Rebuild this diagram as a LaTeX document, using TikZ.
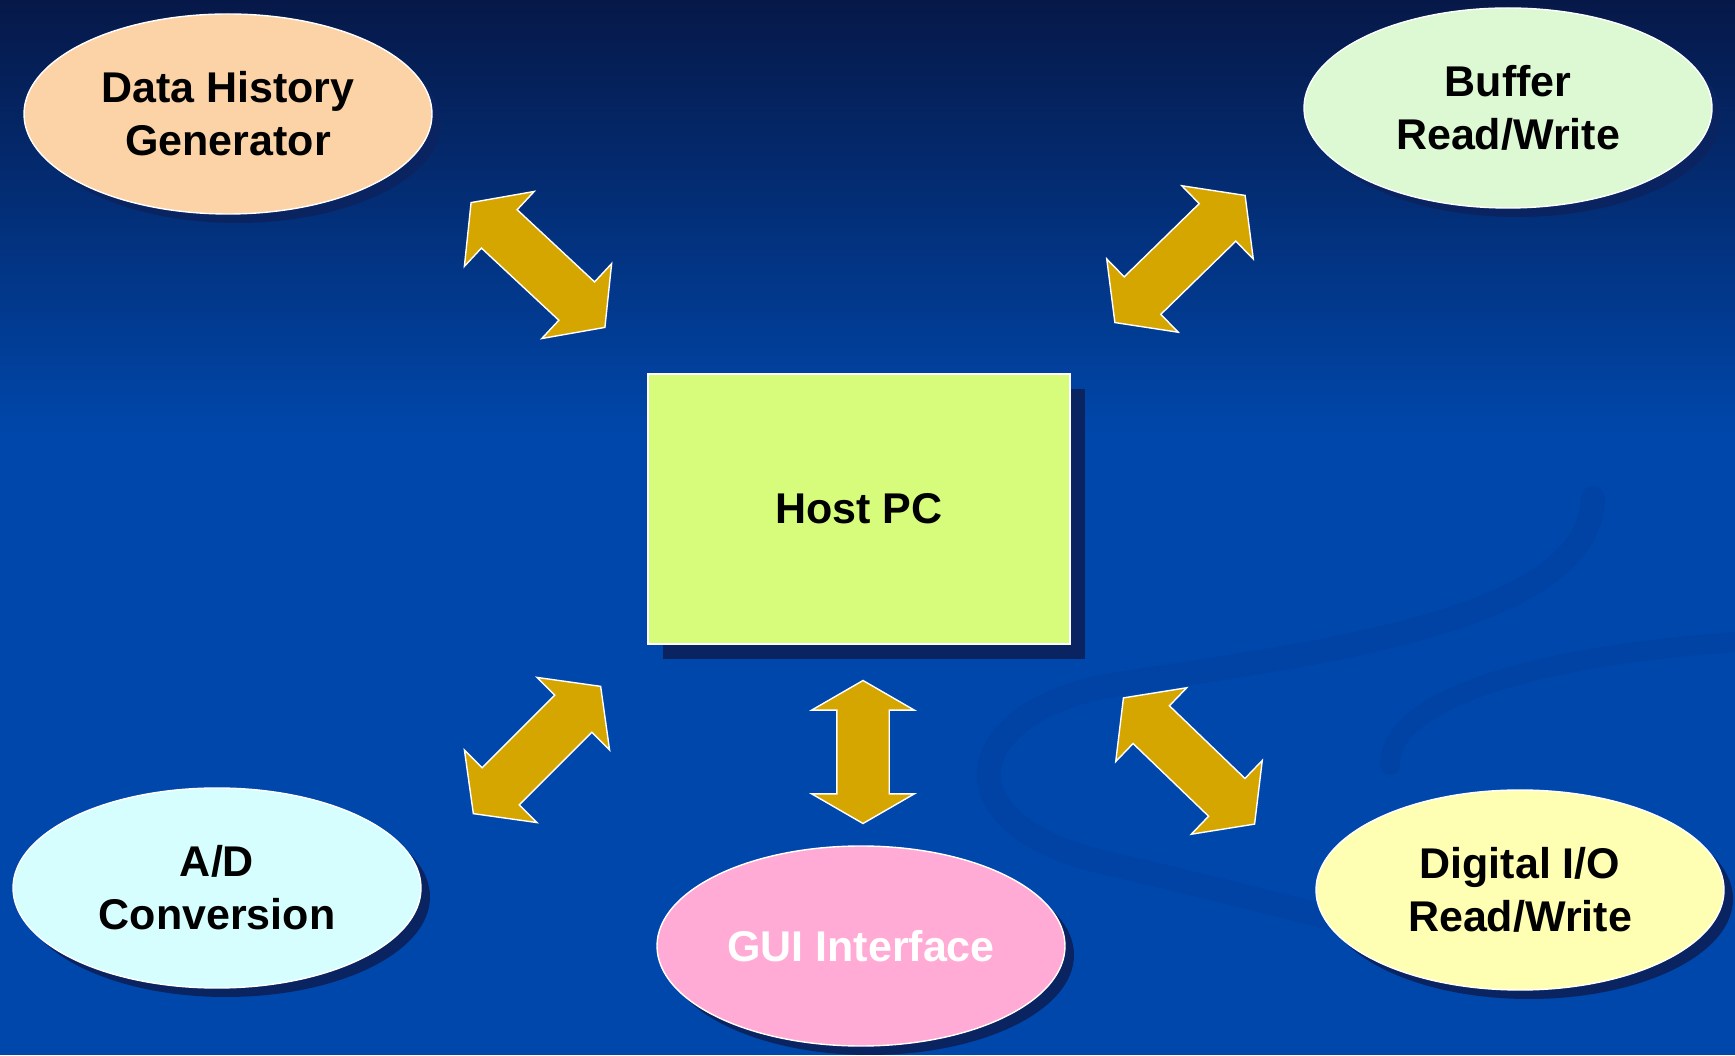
\documentclass[tikz,border=0pt]{standalone}
\usepackage{fontspec}
\setmainfont{Liberation Sans}
\usetikzlibrary{positioning, shapes.geometric, shapes.arrows, shadows}
\definecolor{fondo}{HTML}{0047AB}
\definecolor{fondoalto}{HTML}{061848}
\definecolor{remolino}{HTML}{003A94}
\definecolor{sombra}{HTML}{0A2462}
\definecolor{dorado}{HTML}{D6A600}
\definecolor{melocoton}{HTML}{FCD3A6}
\definecolor{menta}{HTML}{DCF9D3}
\definecolor{celeste}{HTML}{D6FEFE}
\definecolor{rosa}{HTML}{FFABD5}
\definecolor{crema}{HTML}{FFFFB4}
\definecolor{lima}{HTML}{D7FB7B}

\begin{document}
\begin{tikzpicture}[x=0.5pt, y=0.5pt,
	font=\fontsize{21.5}{26.5}\selectfont\bfseries,
	burbuja/.style={ellipse, draw=white, line width=0.7pt, minimum width=204pt,
		minimum height=100pt, inner sep=0pt, align=center,
		drop shadow={shadow xshift=4.5pt, shadow yshift=-4.5pt, fill=sombra, opacity=1}},
	flecha/.style={double arrow, fill=dorado, draw=white, line width=0.7pt,
		inner sep=12.75pt, double arrow head extend=12.5pt, double arrow tip angle=106}]
				% fondo
				\useasboundingbox (0,0) rectangle (1735,1055);
				\fill[fondo] (0,0) rectangle (1735,1055);
				\shade[top color=fondoalto, bottom color=fondo] (0,620) rectangle (1735,1055);
				\draw[remolino, line width=12pt, opacity=0.3, line cap=round]
					(1593,557) .. controls (1590,430) and (1300,400) .. (1106,369)
					.. controls (960,340) and (940,230) .. (1106,192)
					.. controls (1180,175) and (1260,155) .. (1330,137);
				\draw[remolino, line width=10pt, opacity=0.25, line cap=round]
					(1735,413) .. controls (1550,400) and (1390,360) .. (1390,290);
				% nodos
				\node[burbuja, fill=melocoton] (historia) at (228,941) {Data History\\Generator};
				\node[burbuja, fill=menta] (buffer) at (1508,947) {Buffer\\Read/Write};
				\node[burbuja, fill=celeste] (conversor) at (217,167) {A/D\\Conversion};
				\node[burbuja, fill=rosa, text=white] (interfaz) at (861,109) {GUI Interface};
				\node[burbuja, fill=crema] (digital) at (1520,165) {Digital I/O\\Read/Write};
				\node[fill=lima, draw=white, line width=0.7pt, minimum width=211pt, minimum height=135pt,
					drop shadow={shadow xshift=7.5pt, shadow yshift=-7.5pt, fill=sombra, opacity=1}]
					(host) at (859,546) {Host PC};
				% flechas
				\foreach \nombre/\x/\y/\giro/\largo in {fhist/538/790/-43/91.5pt, fbuf/1180/796/44.3/91pt,
					fconv/537/305/45/90pt, fdig/1189/294/-43.9/91pt}
					\node[flecha, rotate=\giro, minimum height=\largo] (\nombre) at (\x,\y) {};
				\node[flecha, double arrow tip angle=120, rotate=90, minimum height=71.5pt] (fgui) at (863,303) {};
			\end{tikzpicture}
\end{document}
